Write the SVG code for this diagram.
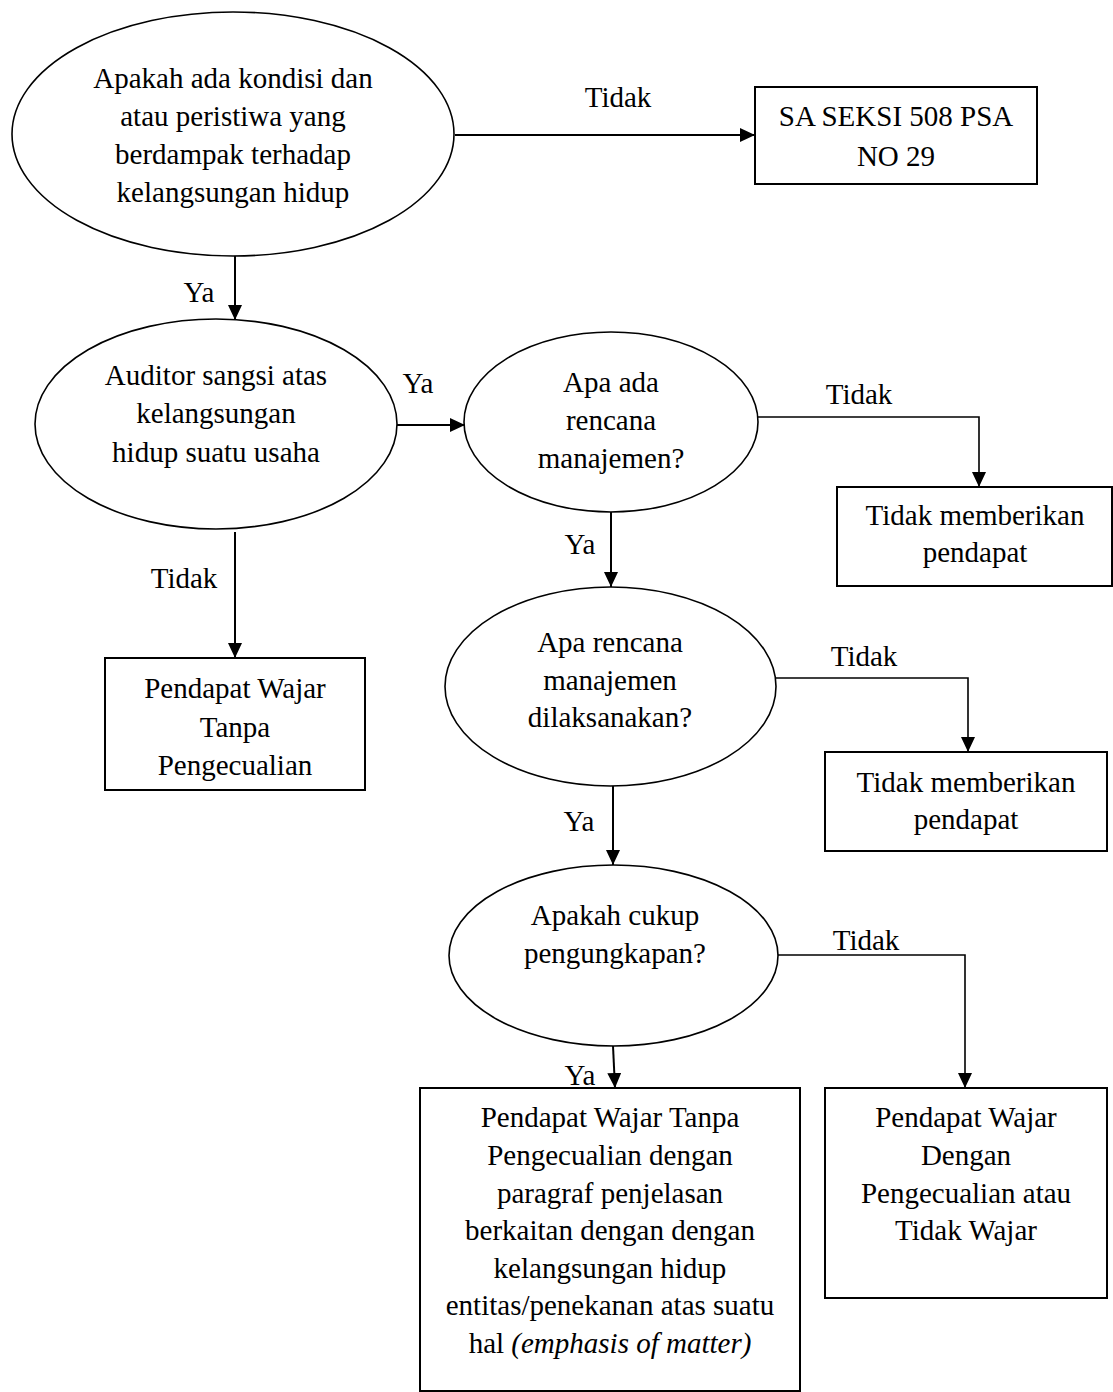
<svg xmlns="http://www.w3.org/2000/svg" width="1113" height="1392" viewBox="0 0 1113 1392">
<style>
text{font-family:"Liberation Serif","Times New Roman",serif;font-size:29px;fill:#000;text-anchor:middle}
.sh{fill:#fff;stroke:#000;stroke-width:1.6}
.bx{fill:#fff;stroke:#000;stroke-width:2}
.ln{fill:none;stroke:#000;stroke-width:2}
.lt{fill:none;stroke:#000;stroke-width:1.6}
</style>
<defs>
<marker id="ah" markerUnits="userSpaceOnUse" markerWidth="16" markerHeight="14" refX="15" refY="7" orient="auto">
<path d="M0,0 L15,7 L0,14 Z" fill="#000"/>
</marker>
</defs>
<rect width="1113" height="1392" fill="#fff"/>
<g id="connectors">
<line class="ln" x1="455" y1="135" x2="755" y2="135" marker-end="url(#ah)"/>
<text x="618" y="107">Tidak</text>
<line class="ln" x1="235" y1="256" x2="235" y2="320" marker-end="url(#ah)"/>
<text x="199" y="302">Ya</text>
<line class="ln" x1="397" y1="425" x2="465" y2="425" marker-end="url(#ah)"/>
<text x="418" y="393">Ya</text>
<polyline class="lt" points="758,417 979,417 979,487" marker-end="url(#ah)"/>
<text x="859" y="404">Tidak</text>
<line class="ln" x1="611" y1="512" x2="611" y2="587" marker-end="url(#ah)"/>
<text x="580" y="554">Ya</text>
<line class="ln" x1="235" y1="532" x2="235" y2="658" marker-end="url(#ah)"/>
<text x="184" y="588">Tidak</text>
<polyline class="lt" points="776,678 968,678 968,752" marker-end="url(#ah)"/>
<text x="864" y="666">Tidak</text>
<line class="ln" x1="613" y1="786" x2="613" y2="865" marker-end="url(#ah)"/>
<text x="579" y="831">Ya</text>
<polyline class="lt" points="778,955 965,955 965,1088" marker-end="url(#ah)"/>
<text x="866" y="950">Tidak</text>
<line class="ln" x1="613" y1="1046" x2="615" y2="1088" marker-end="url(#ah)"/>
<text x="580" y="1085">Ya</text>
</g>
<g id="n1">
<ellipse class="sh" cx="233" cy="134" rx="221" ry="122"/>
<text x="233" y="88">Apakah ada kondisi dan</text>
<text x="233" y="126">atau peristiwa yang</text>
<text x="233" y="164">berdampak terhadap</text>
<text x="233" y="202">kelangsungan hidup</text>
</g>
<g id="n2">
<rect class="bx" x="755" y="87" width="282" height="97"/>
<text x="896" y="126">SA SEKSI 508 PSA</text>
<text x="896" y="166">NO 29</text>
</g>
<g id="n3">
<ellipse class="sh" cx="216" cy="424" rx="181" ry="105"/>
<text x="216" y="385">Auditor sangsi atas</text>
<text x="216" y="423">kelangsungan</text>
<text x="216" y="462">hidup suatu usaha</text>
</g>
<g id="n4">
<ellipse class="sh" cx="611" cy="422" rx="147" ry="90"/>
<text x="611" y="392">Apa ada</text>
<text x="611" y="430">rencana</text>
<text x="611" y="468">manajemen?</text>
</g>
<g id="n5">
<rect class="bx" x="837" y="487" width="275" height="99"/>
<text x="975" y="525">Tidak memberikan</text>
<text x="975" y="562">pendapat</text>
</g>
<g id="n6">
<rect class="bx" x="105" y="658" width="260" height="132"/>
<text x="235" y="698">Pendapat Wajar</text>
<text x="235" y="737">Tanpa</text>
<text x="235" y="775">Pengecualian</text>
</g>
<g id="n7">
<ellipse class="sh" cx="610.5" cy="686.5" rx="165.5" ry="99.5"/>
<text x="610" y="652">Apa rencana</text>
<text x="610" y="690">manajemen</text>
<text x="610" y="727">dilaksanakan?</text>
</g>
<g id="n8">
<rect class="bx" x="825" y="752" width="282" height="99"/>
<text x="966" y="792">Tidak memberikan</text>
<text x="966" y="829">pendapat</text>
</g>
<g id="n9">
<ellipse class="sh" cx="613.5" cy="955.5" rx="164.5" ry="90.5"/>
<text x="615" y="925">Apakah cukup</text>
<text x="615" y="963">pengungkapan?</text>
</g>
<g id="n10">
<rect class="bx" x="420" y="1088" width="380" height="303"/>
<text x="610" y="1127">Pendapat Wajar Tanpa</text>
<text x="610" y="1165">Pengecualian dengan</text>
<text x="610" y="1203">paragraf penjelasan</text>
<text x="610" y="1240">berkaitan dengan dengan</text>
<text x="610" y="1278">kelangsungan hidup</text>
<text x="610" y="1315">entitas/penekanan atas suatu</text>
<text x="610" y="1353">hal <tspan font-style="italic">(emphasis of matter)</tspan></text>
</g>
<g id="n11">
<rect class="bx" x="825" y="1088" width="282" height="210"/>
<text x="966" y="1127">Pendapat Wajar</text>
<text x="966" y="1165">Dengan</text>
<text x="966" y="1203">Pengecualian atau</text>
<text x="966" y="1240">Tidak Wajar</text>
</g>
</svg>
